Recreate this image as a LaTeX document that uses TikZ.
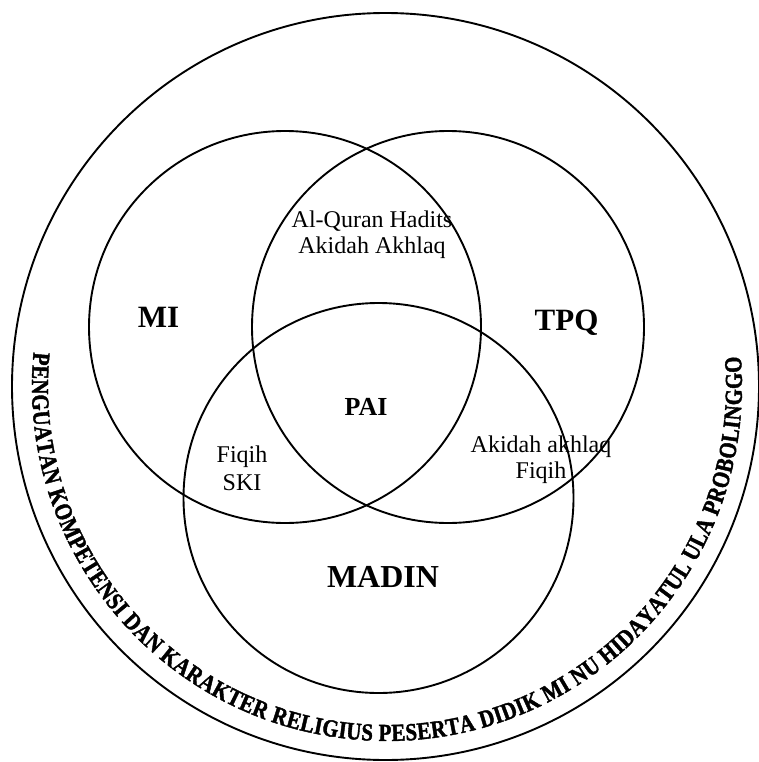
\documentclass[tikz,border=0pt]{standalone}
\usepackage{fontspec}
\setmainfont{Liberation Serif}
\newfontfamily\arcfont[FakeStretch=0.85, BoldFeatures={FakeBold=1.6}]{Liberation Serif}
\usetikzlibrary{decorations.text}
\newcommand\arcfmt{\arcfont\bfseries\fontsize{24.5}{26}\selectfont}
\begin{document}
\begin{tikzpicture}[x=1pt,y=1pt,
  ring/.style={draw, line width=1.9pt},
  biglabel/.style={font=\bfseries\fontsize{31}{31}\selectfont, inner sep=0pt, anchor=base},
  smalllabel/.style={font=\fontsize{24}{26}\selectfont, align=center, inner sep=0pt}]
\useasboundingbox (0,0) rectangle (758,-762);
\draw[ring] (385.5,-386.5) circle[radius=373.5pt];
\draw[ring] (285,-327) circle[radius=196pt];
\draw[ring] (448,-327) circle[radius=196pt];
\draw[ring] (378.5,-498) circle[radius=195pt];
\path[decorate, decoration={text along path, text align=fit to path,
  text={|\arcfmt|PENGUATAN KOMPETENSI DAN KARAKTER RELIGIUS PESERTA DIDIK MI NU HIDAYATUL ULA PROBOLINGGO}}]
  ([shift={(174.5:355pt)}]387,-386) arc[start angle=174.5, end angle=364.8, radius=355pt];
\node[biglabel] (mi) at (158.5,-327) {MI};
\node[biglabel] (tpq) at (566.5,-330) {TPQ};
\node[biglabel, font=\bfseries\fontsize{26}{26}\selectfont] (pai) at (366,-415) {PAI};
\node[biglabel, font=\bfseries\fontsize{32}{32}\selectfont] (madin) at (383,-587) {MADIN};
\node[smalllabel] (mitpq) at (372,-234.4) {Al-Quran Hadits\\Akidah Akhlaq};
\node[smalllabel, font=\fontsize{24}{28}\selectfont] (mimadin) at (242,-467.8) {Fiqih\\SKI};
\node[smalllabel] (tpqmadin) at (541,-459.4) {Akidah akhlaq\\Fiqih};
\end{tikzpicture}
\end{document}
